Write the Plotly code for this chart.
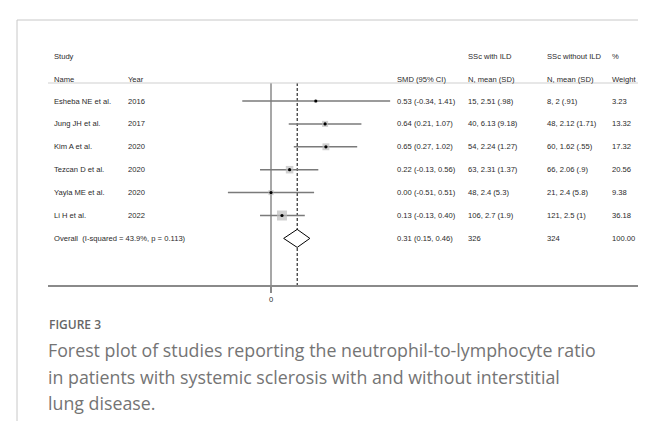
import numpy as np
import plotly.graph_objects as go

# ---------------- data ----------------
studies = ["Esheba NE et al.", "Jung JH et al.", "Kim A et al.", "Tezcan D et al.",
           "Yayla ME et al.", "Li H et al."]
years = ["2016", "2017", "2020", "2020", "2020", "2022"]
smd = [0.53, 0.64, 0.65, 0.22, 0.00, 0.13]
ci_low = [-0.34, 0.21, 0.27, -0.13, -0.51, -0.13]
ci_high = [1.41, 1.07, 1.02, 0.56, 0.51, 0.40]
with_ild = ["15, 2.51 (.98)", "40, 6.13 (9.18)", "54, 2.24 (1.27)", "63, 2.31 (1.37)",
            "48, 2.4 (5.3)", "106, 2.7 (1.9)"]
without_ild = ["8, 2 (.91)", "48, 2.12 (1.71)", "60, 1.62 (.55)", "66, 2.06 (.9)",
               "21, 2.4 (5.8)", "121, 2.5 (1)"]
weights = [3.23, 13.32, 17.32, 20.56, 9.38, 36.18]

overall_label = "Overall  (I-squared = 43.9%, p = 0.113)"
overall_smd = 0.31
overall_low = 0.15
overall_high = 0.46
overall_with = "326"
overall_without = "324"
overall_weight = "100.00"

tick_vals = [0]
tick_text = ["0"]

caption_title = "FIGURE 3"
caption_lines = ["Forest plot of studies reporting the neutrophil-to-lymphocyte ratio",
                 "in patients with systemic sclerosis with and without interstitial",
                 "lung disease."]

# ---------------- layout geometry (pixels) ----------------
W, H = 646, 421
ROW0, ROWSTEP = 93.0, 22.9          # pixel y of first row, spacing
ZERO_PX, PX_PER_UNIT = 263.0, 84.5  # x scale of forest plot
PLOT_L, PLOT_R = 40.0, 644.0
PLOT_T, PLOT_B = 12.0, 277.0

def prow(py):
    return (py - ROW0) / ROWSTEP

def px(x):
    return x / W

def py(y):
    return 1 - y / H

rows = list(range(len(studies)))
overall_row = len(studies)

fig = go.Figure()

# study squares with CI lines (error bars)
fig.add_trace(go.Scatter(
    x=smd, y=rows, mode="markers",
    marker=dict(symbol="square", size=[1.66 * np.sqrt(w) for w in weights],
                color="#bdbdbd", line=dict(width=0)),
    error_x=dict(type="data", symmetric=False,
                 array=[h - m for h, m in zip(ci_high, smd)],
                 arrayminus=[m - l for m, l in zip(smd, ci_low)],
                 color="#7a7a7a", thickness=1.5, width=0),
    hoverinfo="skip"))
# central dots
fig.add_trace(go.Scatter(
    x=smd, y=rows, mode="markers",
    marker=dict(symbol="circle", size=3.2, color="black"),
    hoverinfo="skip"))

# overall diamond
dh = 9.0 / ROWSTEP
fig.add_trace(go.Scatter(
    x=[overall_low, overall_smd, overall_high, overall_smd, overall_low],
    y=[overall_row, overall_row - dh, overall_row, overall_row + dh, overall_row],
    mode="lines", fill="toself", fillcolor="white",
    line=dict(color="black", width=1), hoverinfo="skip"))

shapes = []
# zero line
shapes.append(dict(type="line", xref="x", yref="y", x0=0, x1=0,
                   y0=prow(75), y1=prow(PLOT_B), line=dict(color="#8a8a8a", width=1.5),
                   layer="below"))
# overall dashed line
shapes.append(dict(type="line", xref="x", yref="y", x0=overall_smd, x1=overall_smd,
                   y0=prow(75), y1=prow(PLOT_B), line=dict(color="black", width=1, dash="3px,2px"),
                   layer="below"))
# header separator
shapes.append(dict(type="line", xref="paper", yref="y", x0=px(PLOT_L), x1=px(PLOT_R),
                   y0=prow(75), y1=prow(75), line=dict(color="#cfcfcf", width=1)))
# frame border (top and left)
shapes.append(dict(type="line", xref="paper", yref="paper", x0=px(9), x1=1,
                   y0=py(12), y1=py(12), line=dict(color="#c8c8c8", width=1)))
shapes.append(dict(type="line", xref="paper", yref="paper", x0=px(9), x1=px(9),
                   y0=0, y1=py(12), line=dict(color="#c8c8c8", width=1)))

font = dict(family="Liberation Sans, Arial, sans-serif", size=7.6, color="#2a2a2a")
annotations = []

def add_text(xpix, row, text):
    annotations.append(dict(x=px(xpix), y=row, xref="paper", yref="y", text=text,
                            showarrow=False, xanchor="left", yanchor="middle", font=font))

COL_NAME, COL_YEAR, COL_SMD, COL_WITH, COL_WITHOUT, COL_W = 44, 118, 387, 458, 537, 602
hdr1, hdr2 = prow(49), prow(71)
add_text(COL_NAME, hdr1, "Study")
add_text(COL_NAME, hdr2, "Name")
add_text(COL_YEAR, hdr2, "Year")
add_text(COL_SMD, hdr2, "SMD (95% CI)")
add_text(COL_WITH, hdr1, "SSc with ILD")
add_text(COL_WITH, hdr2, "N, mean (SD)")
add_text(COL_WITHOUT, hdr1, "SSc without ILD")
add_text(COL_WITHOUT, hdr2, "N, mean (SD)")
add_text(COL_W, hdr1, "%")
add_text(COL_W, hdr2, "Weight")

for i in rows:
    add_text(COL_NAME, i, studies[i])
    add_text(COL_YEAR, i, years[i])
    add_text(COL_SMD, i, f"{smd[i]:.2f} ({ci_low[i]:.2f}, {ci_high[i]:.2f})")
    add_text(COL_WITH, i, with_ild[i])
    add_text(COL_WITHOUT, i, without_ild[i])
    add_text(COL_W, i, f"{weights[i]:.2f}")

add_text(COL_NAME, overall_row, overall_label)
add_text(COL_SMD, overall_row, f"{overall_smd:.2f} ({overall_low:.2f}, {overall_high:.2f})")
add_text(COL_WITH, overall_row, overall_with)
add_text(COL_WITHOUT, overall_row, overall_without)
add_text(COL_W, overall_row, overall_weight)

# caption
annotations.append(dict(x=px(39), y=py(316), xref="paper", yref="paper", text=caption_title,
                        showarrow=False, xanchor="left", yanchor="middle",
                        font=dict(family="Open Sans, sans-serif", size=12, color="#666666",
                                  weight=600)))
for k, line in enumerate(caption_lines):
    annotations.append(dict(x=px(38), y=py(342 + 26.5 * k), xref="paper", yref="paper",
                            text=line, showarrow=False, xanchor="left", yanchor="middle",
                            font=dict(family="Open Sans, sans-serif", size=17.8,
                                      color="#747474")))

x_left = (PLOT_L - ZERO_PX) / PX_PER_UNIT
x_right = (PLOT_R - ZERO_PX) / PX_PER_UNIT

fig.update_layout(
    width=W, height=H, margin=dict(l=0, r=0, t=0, b=0),
    paper_bgcolor="white", plot_bgcolor="white", showlegend=False,
    shapes=shapes, annotations=annotations,
    xaxis=dict(domain=[px(PLOT_L), px(PLOT_R)], range=[x_left, x_right],
               showgrid=False, zeroline=False, showline=True, linecolor="#8a8a8a",
               linewidth=1.5, ticks="outside", ticklen=6, tickwidth=1.5,
               tickcolor="#8a8a8a", tickvals=tick_vals, ticktext=tick_text,
               tickfont=dict(family="Liberation Sans, Arial, sans-serif", size=7.6,
                             color="#2a2a2a"), fixedrange=True),
    yaxis=dict(domain=[py(PLOT_B), py(PLOT_T)], range=[prow(PLOT_B), prow(PLOT_T)],
               showgrid=False, zeroline=False, showline=False, showticklabels=False,
               ticks="", fixedrange=True),
)

fig.write_html("out.html")
